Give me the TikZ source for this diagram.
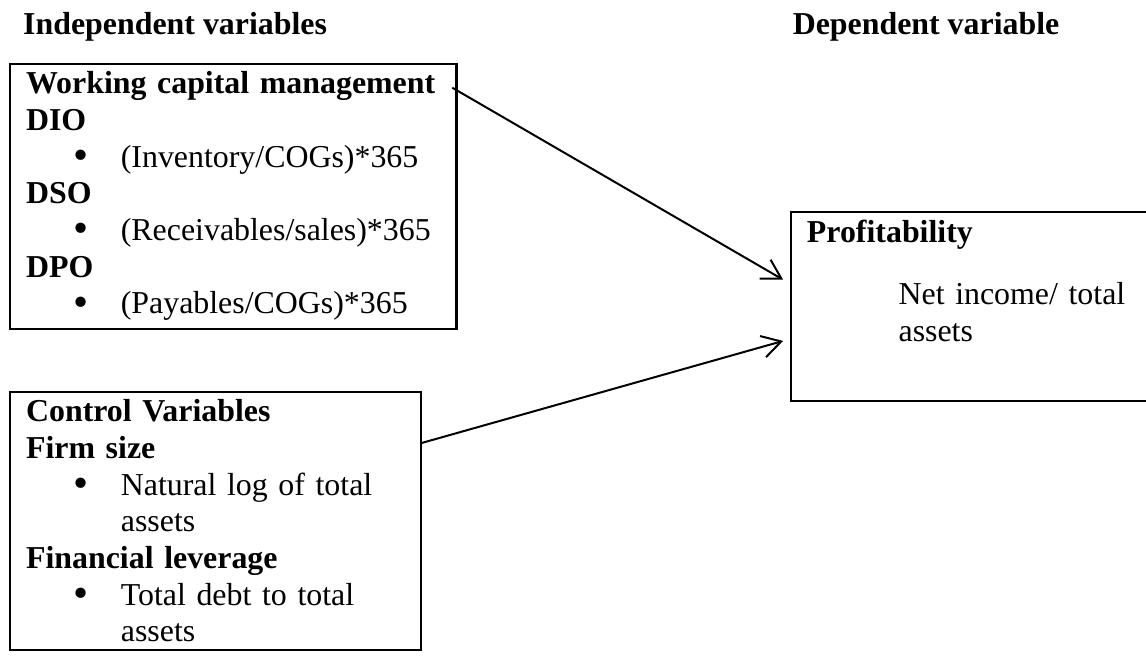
\documentclass[tikz,border=0pt]{standalone}
\usepackage{fontspec}
\setmainfont{Liberation Serif}
\usetikzlibrary{arrows.meta,calc}

% bullet item and its continuation indent
\newcommand{\bul}{\hspace*{18pt}\raisebox{-0.9pt}{\scalebox{1.35}{\textbullet}}\hspace{12pt}}
\newcommand{\bulcont}{\hspace*{35.7pt}}

\begin{document}
\begin{tikzpicture}[>={Straight Barb[length=2.5mm,width=2.9mm]},
  font=\fontsize{12pt}{13.8pt}\selectfont,
  varbox/.style={draw, line width=0.8pt, anchor=north west, align=left, inner xsep=6pt, inner ysep=3pt},
  colhead/.style={anchor=base west, inner sep=0pt}]
  \draw[fill=white, draw=none] (0,0) rectangle (15.16,-8.665);
  \useasboundingbox (0,0) rectangle (15.16,-8.665);

  \node[colhead] (indep) at (0.30,-0.46) {\textbf{Independent variables}};
  \node[colhead] (dep) at (10.48,-0.46) {\textbf{Dependent variable}};

  \node[varbox, text width=156pt] (wcm) at (0.12,-0.83) {%
    \textbf{Working capital management}\\
    \textbf{DIO}\\
    \bul(Inventory/COGs)*365\\
    \textbf{DSO}\\
    \bul(Receivables/sales)*365\\
    \textbf{DPO}\\
    \bul(Payables/COGs)*365};

  \node[varbox, text width=142.5pt] (ctrl) at (0.12,-5.17) {%
    \textbf{Control Variables}\\
    \textbf{Firm size}\\
    \bul\makebox[106.5pt][s]{Natural log of total}\\
    \bulcont assets\\
    \textbf{Financial leverage}\\
    \bul\makebox[106.5pt][s]{Total debt to total}\\
    \bulcont assets};

  \node[varbox, text width=130pt] (prof) at (10.45,-2.79) {%
    \textbf{Profitability}\\[9.6pt]
    \hspace*{34.5pt}\makebox[89.3pt][s]{Net income/ total}\\
    \hspace*{34.5pt}assets\rule[-19.5pt]{0pt}{19.5pt}};

  \draw[->, line width=0.75pt] ($(wcm.north east)+(-0.07,-0.33)$) -- ($(prof.north west)+(-0.09,-0.91)$);
  \draw[->, line width=0.75pt] ($(ctrl.north east)+(0,-0.69)$) -- ($(prof.north west)+(-0.09,-1.72)$);
\end{tikzpicture}
\end{document}
